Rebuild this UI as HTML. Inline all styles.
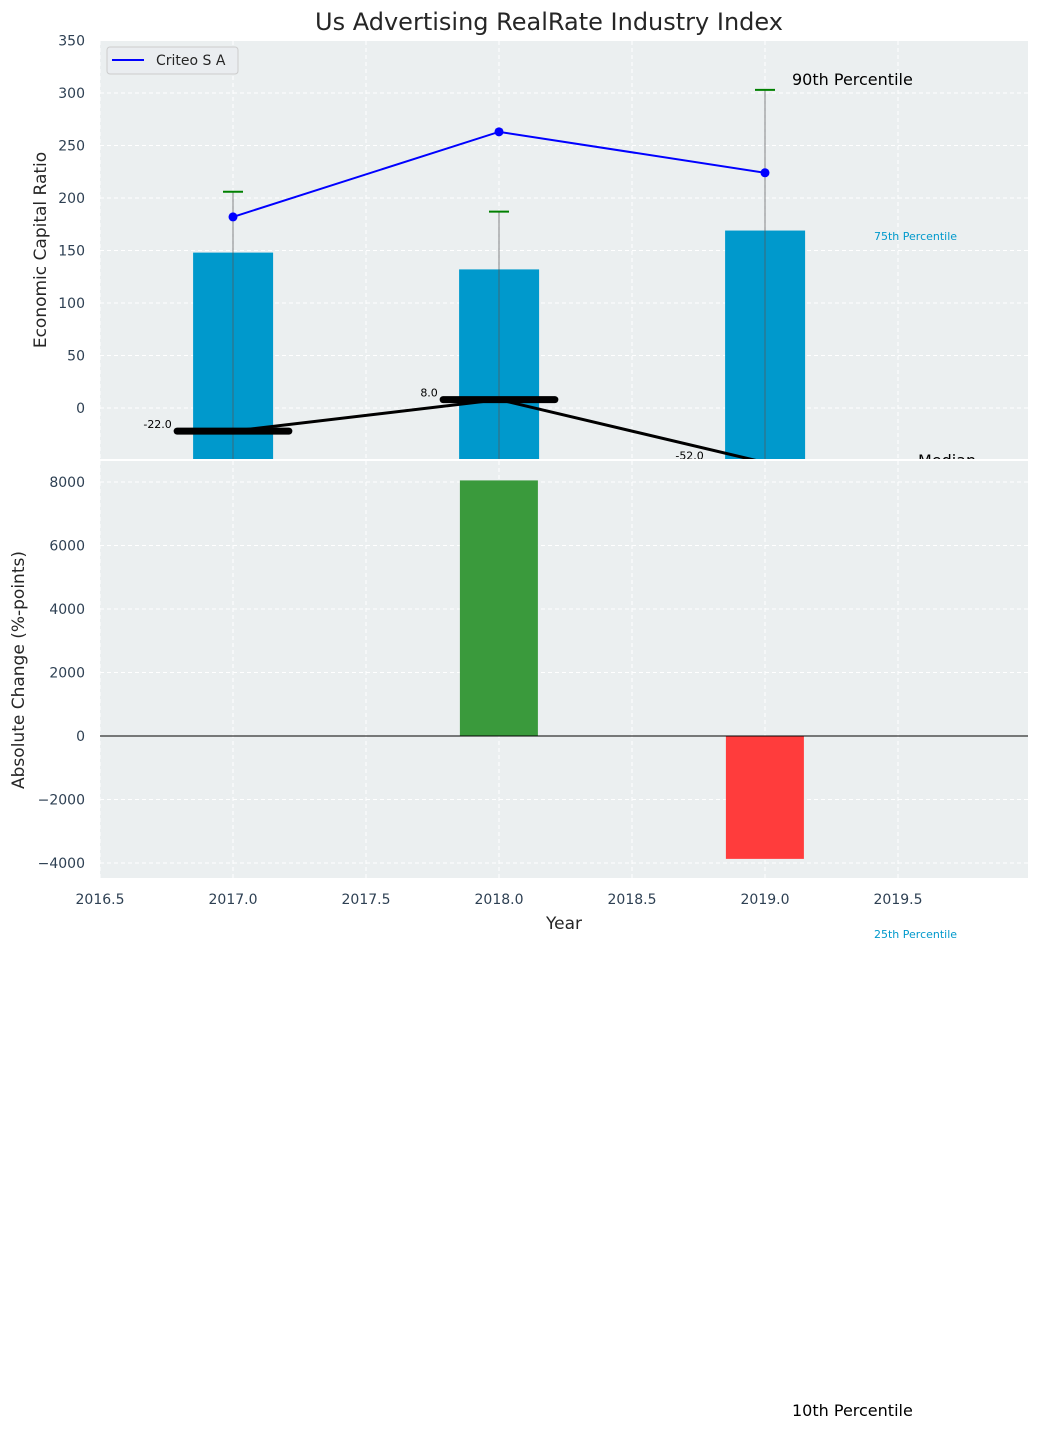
<!DOCTYPE html>
<html><head><meta charset="utf-8"><style>
body{margin:0;background:#fff;}
svg{display:block;font-family:"DejaVu Sans","Liberation Sans",sans-serif;}
</style></head><body>
<svg id="chart" width="1039" height="1430" viewBox="0 0 1039 1430" xmlns="http://www.w3.org/2000/svg"></svg>
<script>
const years=[2017,2018,2019];
const p25=[-60,-60,-60];
const p75=[148,132,169];
const p90=[206,187,303];
const criteo=[182,263,224];
const median=[-22,8,-52];
const change=[0,8050,-3870];
const xTicks=[2016.5,2017,2017.5,2018,2018.5,2019,2019.5];
const topTicks=[0,50,100,150,200,250,300,350];
const botTicks=[-4000,-2000,0,2000,4000,6000,8000];

const L=100,R=1028,T1=41,B1=459,T2=461,B2=878;
const X=v=>L+(v-2016.5)*266;
const Y1=v=>408-v*1.05;
const Y2=v=>736-v*0.03175;
const NS='http://www.w3.org/2000/svg';
const svg=document.getElementById('chart');
function el(tag,attrs,parent,text){const e=document.createElementNS(NS,tag);for(const k in attrs)e.setAttribute(k,attrs[k]);if(text!==undefined)e.textContent=text;(parent||svg).appendChild(e);return e;}

const defs=el('defs',{});
const cp=el('clipPath',{id:'c1'},defs);el('rect',{x:L,y:T1,width:R-L,height:B1-T1},cp);
const cp2=el('clipPath',{id:'c2'},defs);el('rect',{x:L,y:T2,width:R-L,height:B2-T2},cp2);

let t=el('text',{x:549,y:30,'font-size':24,fill:'#262626','text-anchor':'middle'},null,'Us Advertising RealRate Industry Index');


// top panel
let bg=el('rect',{x:L,y:T1,width:R-L,height:B1-T1,fill:'#ebeff0'});

const gTop=el('g',{'clip-path':'url(#c1)'});
xTicks.forEach(v=>el('line',{x1:X(v),x2:X(v),y1:T1,y2:B1,stroke:'#fff','stroke-dasharray':'4,3','stroke-width':1},gTop));
topTicks.forEach(v=>{el('line',{x1:L,x2:R,y1:Y1(v),y2:Y1(v),stroke:'#fff','stroke-dasharray':'4,3'},gTop);
 let tt=el('text',{x:85,y:Y1(v)+5,'font-size':14,fill:'#2e4053','text-anchor':'end'},null,String(v));
 });
years.forEach((y,i)=>{
 let b=el('rect',{x:X(y-0.15),y:Y1(p75[i]),width:80,height:Y1(p25[i])-Y1(p75[i]),fill:'#0099cc'},gTop);
 
 el('line',{x1:X(y),x2:X(y),y1:Y1(p90[i]),y2:B1,stroke:'#555','stroke-width':1,opacity:0.7},gTop);
 let c=el('line',{x1:X(y)-10,x2:X(y)+10,y1:Y1(p90[i]),y2:Y1(p90[i]),stroke:'green','stroke-width':2},gTop);
 
});
let cl=el('polyline',{points:years.map((y,i)=>X(y)+','+Y1(criteo[i])).join(' '),fill:'none',stroke:'blue','stroke-width':2},gTop);

years.forEach((y,i)=>{let d=el('circle',{cx:X(y),cy:Y1(criteo[i]),r:4.5,fill:'blue'},gTop);
 });
let ml=el('polyline',{points:years.map((y,i)=>X(y)+','+Y1(median[i])).join(' '),fill:'none',stroke:'#000','stroke-width':3},gTop);

years.forEach((y,i)=>{let s=el('line',{x1:X(y-0.21),x2:X(y+0.21),y1:Y1(median[i]),y2:Y1(median[i]),stroke:'#000','stroke-width':7,'stroke-linecap':'round'},gTop);
 });
years.forEach((y,i)=>{let lb=el('text',{x:X(y-0.23),y:Y1(median[i])-3,'font-size':11,fill:'#000','text-anchor':'end'},null,median[i].toFixed(1));
 });
let a=el('text',{x:792,y:85,'font-size':16,fill:'#000'},null,'90th Percentile');
a=el('text',{x:874,y:240,'font-size':11,fill:'#0099cc'},null,'75th Percentile');
a=el('text',{x:918,y:466,'font-size':16,fill:'#000'},null,'Median');
a=el('text',{x:46,y:250,'font-size':17,fill:'#262626','text-anchor':'middle',transform:'rotate(-90 46 250)'},null,'Economic Capital Ratio');
// legend
const lg=el('g',{});
el('rect',{x:107,y:47,width:131,height:27,rx:3,fill:'#eaedf0',stroke:'#ccc'},lg);
el('line',{x1:112,x2:144,y1:60,y2:60,stroke:'blue','stroke-width':2},lg);
el('text',{x:156,y:65,'font-size':14,fill:'#262626'},lg,'Criteo S A');

// bottom panel
el('rect',{x:L,y:459,width:R-L,height:2,fill:'#fff'});
bg=el('rect',{x:L,y:T2,width:R-L,height:B2-T2,fill:'#ebeff0'});

const gB=el('g',{'clip-path':'url(#c2)'});
xTicks.forEach(v=>el('line',{x1:X(v),x2:X(v),y1:T2,y2:B2,stroke:'#fff','stroke-dasharray':'4,3'},gB));
botTicks.forEach(v=>{el('line',{x1:L,x2:R,y1:Y2(v),y2:Y2(v),stroke:'#fff','stroke-dasharray':'4,3'},gB);
 let tt=el('text',{x:85,y:Y2(v)+5,'font-size':14,fill:'#2e4053','text-anchor':'end'},null,v<0?'\u2212'+Math.abs(v):String(v));
 });
years.forEach((y,i)=>{if(!change[i])return;
 let b=el('rect',{x:X(y-0.147),y:Math.min(Y2(0),Y2(change[i])),width:78,height:Math.abs(Y2(change[i])-Y2(0)),fill:change[i]>0?'#3a9a3c':'#ff3c3c'},gB);
 });
el('line',{x1:L,x2:R,y1:Y2(0),y2:Y2(0),stroke:'#000','stroke-width':1});
xTicks.forEach(v=>{let tt=el('text',{x:X(v),y:904,'font-size':14,fill:'#2e4053','text-anchor':'middle'},null,v.toFixed(1));
 });
a=el('text',{x:564,y:929,'font-size':17,fill:'#262626','text-anchor':'middle'},null,'Year');
a=el('text',{x:24,y:670,'font-size':17,fill:'#262626','text-anchor':'middle',transform:'rotate(-90 24 670)'},null,'Absolute Change (%-points)');
a=el('text',{x:874,y:938,'font-size':11,fill:'#0099cc'},null,'25th Percentile');
a=el('text',{x:792,y:1416,'font-size':16,fill:'#000'},null,'10th Percentile');
</script>
</body></html>
